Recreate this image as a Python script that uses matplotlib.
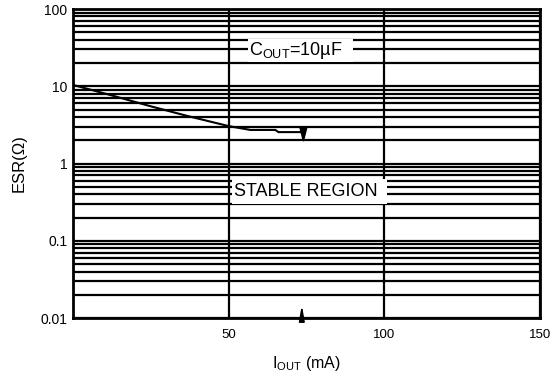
import matplotlib
matplotlib.use('Agg')
import matplotlib.pyplot as plt
from matplotlib.patches import Rectangle
from matplotlib.ticker import LogLocator, NullFormatter

plt.rcParams['font.family'] = 'Liberation Sans'
plt.rcParams['mathtext.fontset'] = 'custom'
plt.rcParams['mathtext.rm'] = 'Liberation Sans'
plt.rcParams['mathtext.it'] = 'Liberation Sans:italic'

# boundary curve
iout = [0, 12, 25, 37, 50, 57, 65, 66, 74]
esr = [10.4, 7.7, 5.5, 4.1, 3.05, 2.72, 2.72, 2.55, 2.55]

xticks = [50, 100, 150]
yticks = [0.01, 0.1, 1, 10, 100]
ylabels = ['0.01', '0.1', '1', '10', '100']

fig = plt.figure(figsize=(5.56, 3.74), dpi=100)
ax = fig.add_axes([0.1313, 0.1497, 0.8399, 0.8262])

ax.set_yscale('log')
ax.set_xlim(0, 150)
ax.set_ylim(0.01, 100)
ax.set_xticks(xticks)
ax.set_yticks(yticks)
ax.set_yticklabels(ylabels)
ax.yaxis.set_minor_locator(LogLocator(base=10, subs=range(2, 10), numticks=20))
ax.yaxis.set_minor_formatter(NullFormatter())
ax.tick_params(axis='both', which='both', length=0)
ax.tick_params(axis='y', labelsize=10, pad=4)
ax.tick_params(axis='x', labelsize=9.5, pad=8)

ax.set_axisbelow(True)
ax.grid(which='both', axis='y', color='black', lw=1.6)
ax.grid(which='major', axis='x', color='black', lw=1.6)
for s in ax.spines.values():
    s.set_linewidth(2)

ax.plot(iout, esr, color='black', lw=1.5, zorder=4)

arrow = dict(arrowstyle='-|>,head_length=0.94,head_width=0.24', color='black',
             lw=1.2, mutation_scale=10, shrinkA=0, shrinkB=0)
ax.annotate('', xy=(74, 1.8), xytext=(74, 2.6), arrowprops=arrow, zorder=5)
arrow2 = dict(arrow, arrowstyle='-|>,head_length=0.9,head_width=0.16')
ax.annotate('', xy=(73.5, 0.0148), xytext=(73.5, 0.0102), arrowprops=arrow2, zorder=5)

ax.add_patch(Rectangle((56.2, 20.5), 33.7, 20.3, facecolor='white', edgecolor='none', zorder=3))
ax.text(56.4, 29, r'C$_{\mathrm{OUT}}$=10µF', fontsize=13, va='center', ha='left', zorder=4)

ax.add_patch(Rectangle((51.1, 0.303), 49.8, 0.324, facecolor='white', edgecolor='none', zorder=3))
ax.text(51.7, 0.44, 'STABLE REGION', fontsize=13, va='center', ha='left', zorder=4)

ax.set_ylabel('ESR(Ω)', fontsize=12, labelpad=10)
ax.set_xlabel(r'I$_{\mathrm{OUT}}$ (mA)', fontsize=11.5, labelpad=9)

fig.savefig('out.png', dpi=100)
